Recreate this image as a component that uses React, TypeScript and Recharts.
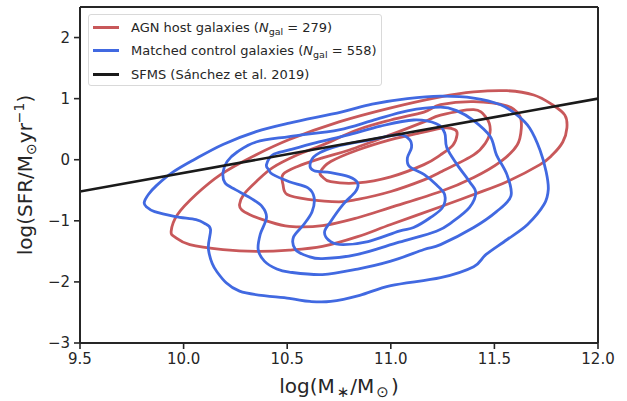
import { ComposedChart, Line, XAxis, YAxis, ReferenceLine } from "recharts";

// contour paths: [log M*, log SFR]
const agnLevel1: [number, number][] = [
  [9.94, -1.17], [9.97, -0.9], [10.06, -0.57], [10.18, -0.24], [10.32, 0.03], [10.51, 0.33],
  [10.75, 0.62], [11.0, 0.85], [11.24, 1.03], [11.4, 1.11], [11.56, 1.13], [11.69, 1.06],
  [11.78, 0.9], [11.84, 0.73], [11.85, 0.52], [11.83, 0.29], [11.78, 0.08], [11.72, -0.08],
  [11.56, -0.36], [11.4, -0.57], [11.24, -0.77], [11.0, -1.06], [10.84, -1.26], [10.67, -1.42],
  [10.51, -1.48], [10.35, -1.5], [10.19, -1.47], [10.03, -1.39], [9.96, -1.27],
];
const agnLevel2: [number, number][] = [
  [10.27, -0.73], [10.29, -0.57], [10.35, -0.36], [10.43, -0.13], [10.55, 0.08], [10.67, 0.24],
  [10.84, 0.49], [11.0, 0.65], [11.16, 0.78], [11.24, 0.9], [11.4, 0.95], [11.56, 0.88],
  [11.62, 0.73], [11.63, 0.52], [11.61, 0.24], [11.53, -0.03], [11.4, -0.29], [11.24, -0.52],
  [11.0, -0.78], [10.84, -0.95], [10.67, -1.08], [10.51, -1.09], [10.4, -1.0], [10.32, -0.9],
  [10.28, -0.82],
];
const agnLevel3: [number, number][] = [
  [10.48, -0.41], [10.48, -0.24], [10.55, -0.11], [10.67, 0.03], [10.8, 0.16], [11.0, 0.41],
  [11.16, 0.62], [11.24, 0.73], [11.4, 0.82], [11.46, 0.69], [11.48, 0.49], [11.46, 0.29],
  [11.4, 0.08], [11.24, -0.2], [11.16, -0.33], [11.0, -0.52], [10.84, -0.65], [10.75, -0.69],
  [10.6, -0.65], [10.5, -0.57],
];
const agnLevel4: [number, number][] = [
  [10.66, -0.2], [10.71, -0.03], [10.84, 0.16], [11.0, 0.33], [11.14, 0.44], [11.26, 0.52],
  [11.31, 0.49], [11.32, 0.41], [11.3, 0.24], [11.24, 0.08], [11.16, -0.08], [11.0, -0.28],
  [10.84, -0.38], [10.71, -0.36], [10.67, -0.28],
];

const ctrlLevel1: [number, number][] = [
  [9.81, -0.7], [9.83, -0.57], [9.87, -0.42], [9.95, -0.2], [10.05, 0.0], [10.19, 0.25],
  [10.35, 0.46], [10.51, 0.6], [10.76, 0.78], [10.91, 0.91], [11.08, 1.0], [11.24, 1.04],
  [11.4, 1.01], [11.53, 0.9], [11.61, 0.73], [11.67, 0.52], [11.72, 0.16], [11.75, -0.2],
  [11.76, -0.49], [11.74, -0.73], [11.66, -1.06], [11.56, -1.31], [11.46, -1.55], [11.4, -1.75],
  [11.24, -1.93], [11.0, -2.06], [10.85, -2.22], [10.71, -2.32], [10.61, -2.32], [10.51, -2.27],
  [10.27, -2.15], [10.16, -1.83], [10.12, -1.47], [10.13, -1.14], [10.1, -1.04], [10.06, -0.98],
  [9.96, -0.93], [9.86, -0.85], [9.82, -0.77],
];
const ctrlLevel2: [number, number][] = [
  [10.19, -0.21], [10.21, -0.03], [10.26, 0.13], [10.35, 0.29], [10.51, 0.38], [10.75, 0.49],
  [10.91, 0.64], [11.08, 0.8], [11.24, 0.86], [11.32, 0.8], [11.4, 0.64], [11.48, 0.38],
  [11.51, 0.08], [11.56, -0.24], [11.58, -0.59], [11.51, -0.85], [11.4, -1.11], [11.24, -1.39],
  [11.16, -1.47], [11.0, -1.66], [10.84, -1.79], [10.67, -1.88], [10.51, -1.84], [10.45, -1.79],
  [10.39, -1.66], [10.36, -1.47], [10.37, -1.22], [10.4, -0.95], [10.38, -0.77], [10.32, -0.62],
  [10.25, -0.49], [10.2, -0.38],
];
const ctrlLevel3: [number, number][] = [
  [10.4, -0.08], [10.43, 0.08], [10.51, 0.16], [10.64, 0.28], [10.8, 0.41], [10.95, 0.55],
  [11.11, 0.65], [11.22, 0.59], [11.26, 0.44], [11.27, 0.2], [11.32, -0.08], [11.38, -0.36],
  [11.41, -0.54], [11.38, -0.78], [11.3, -1.01], [11.22, -1.17], [11.04, -1.35], [10.84, -1.55],
  [10.67, -1.62], [10.6, -1.58], [10.54, -1.47], [10.53, -1.27], [10.58, -1.06], [10.62, -0.85],
  [10.63, -0.62], [10.6, -0.46], [10.51, -0.36], [10.43, -0.24], [10.41, -0.16],
];
const ctrlLevel4: [number, number][] = [
  [10.61, -0.08], [10.64, 0.08], [10.75, 0.23], [10.91, 0.33], [11.04, 0.41], [11.09, 0.33],
  [11.1, 0.2], [11.08, 0.03], [11.09, -0.11], [11.16, -0.24], [11.22, -0.41], [11.26, -0.57],
  [11.25, -0.78], [11.19, -0.95], [11.11, -1.11], [11.04, -1.17], [10.89, -1.34], [10.77, -1.39],
  [10.71, -1.34], [10.68, -1.19], [10.71, -1.01], [10.77, -0.73], [10.83, -0.52], [10.84, -0.38],
  [10.8, -0.28], [10.71, -0.21], [10.63, -0.18],
];

const sfmsLine: [number, number][] = [[9.5, -0.52], [12.0, 1.0]];

const xTicks = [9.5, 10.0, 10.5, 11.0, 11.5, 12.0];
const yTicks = [-3, -2, -1, 0, 1, 2];

const RED = "#C8585A";
const BLUE = "#4169E1";
const INK = "#262626";
const FONT = "'DejaVu Sans', sans-serif";

const toRows = (pts: [number, number][]) => pts.map(([x, y]) => ({ x, y }));

// closed catmull-rom so the contours come out smooth
const closedSmooth = (context: any) => {
  let pts: [number, number][] = [];
  return {
    areaStart() {},
    areaEnd() {},
    lineStart() {
      pts = [];
    },
    point(x: number, y: number) {
      pts.push([+x, +y]);
    },
    lineEnd() {
      const n = pts.length;
      if (!n) return;
      context.moveTo(pts[0][0], pts[0][1]);
      for (let i = 0; i < n; i++) {
        const p0 = pts[(i - 1 + n) % n];
        const p1 = pts[i];
        const p2 = pts[(i + 1) % n];
        const p3 = pts[(i + 2) % n];
        context.bezierCurveTo(
          p1[0] + (p2[0] - p0[0]) / 6,
          p1[1] + (p2[1] - p0[1]) / 6,
          p2[0] - (p3[0] - p1[0]) / 6,
          p2[1] - (p3[1] - p1[1]) / 6,
          p2[0],
          p2[1]
        );
      }
      context.closePath();
    },
  };
};

const YTitle = () => (
  <text
    x={32}
    y={175}
    transform="rotate(-90 32 175)"
    textAnchor="middle"
    fontFamily={FONT}
    fontSize={20}
    fill={INK}
  >
    log(SFR/M
    <tspan fontSize={14} dy={4}>⊙</tspan>
    <tspan dy={-4}>yr</tspan>
    <tspan fontSize={14} dy={-8}>−1</tspan>
    <tspan dy={8}>)</tspan>
  </text>
);

const XTitle = () => (
  <text x={339} y={393} textAnchor="middle" fontFamily={FONT} fontSize={20} fill={INK}>
    log(M
    <tspan fontSize={15} dx={2} dy={4}>∗</tspan>
    <tspan dx={1} dy={-4}>/M</tspan>
    <tspan fontSize={15} dx={2} dy={4}>⊙</tspan>
    <tspan dx={2} dy={-4}>)</tspan>
  </text>
);

const legendItems = [
  { color: RED, label: "AGN host galaxies", n: "279" },
  { color: BLUE, label: "Matched control galaxies", n: "558" },
  { color: "#1a1a1a", label: "SFMS (Sánchez et al. 2019)", n: "" },
];

function LegendBox() {
  return (
    <div
      style={{
        position: "absolute",
        left: 88,
        top: 14,
        width: 292,
        height: 70,
        border: "1px solid #d9d9d9",
        borderRadius: 3,
        background: "rgba(255,255,255,0.85)",
        fontFamily: FONT,
        fontSize: 13,
        color: INK,
      }}
    >
      {legendItems.map((it, i) => (
        <div
          key={it.label}
          style={{ position: "absolute", left: 0, top: 2 + i * 23.5, height: 20, display: "flex", alignItems: "center", whiteSpace: "nowrap" }}
        >
          <span style={{ display: "inline-block", width: 26, height: 3, background: it.color, marginLeft: 4, marginRight: 12 }} />
          <span>
            {it.label}
            {it.n && (
              <>
                {" ("}
                <i>N</i>
                <span style={{ fontSize: 9.5, position: "relative", top: 3 }}>gal</span>
                {` = ${it.n})`}
              </>
            )}
          </span>
        </div>
      ))}
    </div>
  );
}

export default function App() {
  const lineProps = {
    dataKey: "y",
    dot: false,
    activeDot: false,
    isAnimationActive: false,
    strokeWidth: 2.8,
    type: closedSmooth as any,
  };
  return (
    <div style={{ position: "absolute", left: 0, top: 0, width: 627, height: 401, background: "#fff" }}>
      <ComposedChart width={627} height={401} margin={{ top: 7, right: 29, left: 0, bottom: 0 }}>
        <XAxis
          dataKey="x"
          type="number"
          domain={[9.5, 12]}
          ticks={xTicks}
          interval={0}
          allowDataOverflow
          height={58}
          tickFormatter={(v: number) => v.toFixed(1)}
          tick={{ fill: INK, fontSize: 15, fontFamily: FONT }}
          tickSize={6}
          tickMargin={4}
          axisLine={{ stroke: INK, strokeWidth: 2 }}
          tickLine={{ stroke: INK, strokeWidth: 1.6 }}
          label={<XTitle />}
        />
        <YAxis
          type="number"
          domain={[-3, 2.5]}
          ticks={yTicks}
          interval={0}
          allowDataOverflow
          width={80}
          tickFormatter={(v: number) => (v < 0 ? `\u2212${Math.abs(v)}` : `${v}`)}
          tick={{ fill: INK, fontSize: 15, fontFamily: FONT }}
          tickSize={6}
          tickMargin={4}
          axisLine={{ stroke: INK, strokeWidth: 2 }}
          tickLine={{ stroke: INK, strokeWidth: 1.6 }}
          label={<YTitle />}
        />
        <ReferenceLine y={2.5} stroke={INK} strokeWidth={2} />
        <ReferenceLine x={12} stroke={INK} strokeWidth={2} />

        <Line data={toRows(agnLevel1)} stroke={RED} {...lineProps} />
        <Line data={toRows(agnLevel2)} stroke={RED} {...lineProps} />
        <Line data={toRows(agnLevel3)} stroke={RED} {...lineProps} />
        <Line data={toRows(agnLevel4)} stroke={RED} {...lineProps} />

        <Line data={toRows(ctrlLevel1)} stroke={BLUE} {...lineProps} />
        <Line data={toRows(ctrlLevel2)} stroke={BLUE} {...lineProps} />
        <Line data={toRows(ctrlLevel3)} stroke={BLUE} {...lineProps} />
        <Line data={toRows(ctrlLevel4)} stroke={BLUE} {...lineProps} />

        <Line
          data={toRows(sfmsLine)}
          dataKey="y"
          type="linear"
          stroke="#1a1a1a"
          strokeWidth={2.6}
          dot={false}
          activeDot={false}
          isAnimationActive={false}
        />
      </ComposedChart>
      <LegendBox />
    </div>
  );
}
